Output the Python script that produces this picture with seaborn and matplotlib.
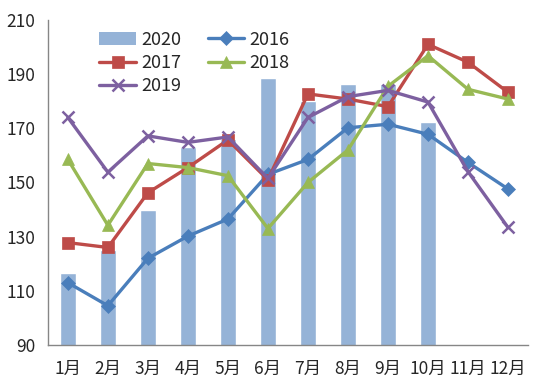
import numpy as np
import pandas as pd
import matplotlib
matplotlib.use("Agg")
import matplotlib.pyplot as plt
from matplotlib.patches import Patch
from matplotlib.lines import Line2D
import seaborn as sns

# ------------------------------------------------------------------
# Data
# ------------------------------------------------------------------
months = ["1月", "2月", "3月", "4月", "5月", "6月",
          "7月", "8月", "9月", "10月", "11月", "12月"]

y2020 = [116.5, 125, 140, 163, 166, 188.5, 180, 186.5, 186.5, 172.5, np.nan, np.nan]
y2016 = [113, 104.5, 122, 130.2, 136.5, 153, 158.5, 170.2, 171.5, 167.8, 157.4, 147.6]
y2017 = [127.8, 126, 146.2, 155.5, 165.7, 151, 182.7, 180.8, 178, 201, 194.4, 183.3]
y2018 = [158.5, 134.2, 157, 155.5, 152.5, 133, 150, 162, 185.5, 196.8, 184.4, 180.8]
y2019 = [174, 153.8, 167.2, 164.8, 166.8, 151.5, 174, 181.7, 184, 179.7, 154, 133.4]

BAR_COLOR = "#95B3D7"
line_specs = [
    ("2016", y2016, "#4A7EBB", "D", 7),
    ("2017", y2017, "#BE4B48", "s", 8),
    ("2018", y2018, "#98B954", "^", 8.5),
    ("2019", y2019, "#7D60A0", "x", 9),
]

# ------------------------------------------------------------------
# Style
# ------------------------------------------------------------------
sns.set_style("white")
plt.rcParams["font.family"] = ["Noto Sans CJK SC", "DejaVu Sans"]
FONT_SIZE = 12.5

fig = plt.figure(figsize=(5.5, 3.84), dpi=100)
ax = fig.add_axes([0.087, 0.1016, 0.873, 0.8464])

bar_df = pd.DataFrame({"month": months, "value": y2020})
sns.barplot(data=bar_df, x="month", y="value", color=BAR_COLOR,
            saturation=1, width=0.4, ax=ax, zorder=1)

x = np.arange(len(months))
for name, vals, color, marker, ms in line_specs:
    sns.lineplot(x=x, y=vals, color=color, linewidth=2.4, marker=marker,
                 markersize=ms, markeredgecolor=color,
                 markeredgewidth=1.8 if marker == "x" else 0.5,
                 ax=ax, zorder=3, legend=False)

# ------------------------------------------------------------------
# Axes
# ------------------------------------------------------------------
ax.set_ylim(90, 210)
ax.set_yticks(range(90, 211, 20))
ax.set_xlim(-0.5, 11.5)
ax.set_xticks(x)
ax.set_xticklabels(months)
ax.set_xticks(np.arange(-0.5, 12, 1), minor=True)
ax.tick_params(axis="x", which="major", length=0, labelsize=FONT_SIZE, pad=11)
ax.tick_params(axis="x", which="minor", length=5, color="#868686", direction="out")
ax.tick_params(axis="y", length=5, color="#868686", direction="out",
               labelsize=FONT_SIZE, pad=4)
ax.set_xlabel("")
ax.set_ylabel("")
for side in ["top", "right"]:
    ax.spines[side].set_visible(False)
for side in ["left", "bottom"]:
    ax.spines[side].set_color("#868686")
    ax.spines[side].set_linewidth(1)

# legend: row order 2020 2016 / 2017 2018 / 2019
handles = {
    "2020": Patch(facecolor=BAR_COLOR, edgecolor="none"),
}
for name, vals, color, marker, ms in line_specs:
    handles[name] = Line2D([], [], color=color, linewidth=2.4, marker=marker,
                           markersize=ms, markeredgecolor=color,
                           markeredgewidth=1.8 if marker == "x" else 0.5)
order = ["2020", "2017", "2019", "2016", "2018"]
ax.legend([handles[k] for k in order], order, ncol=2, frameon=False,
          fontsize=FONT_SIZE + 0.5, loc="upper left",
          bbox_to_anchor=(0.085, 1.0), handlelength=2.0, handleheight=0.7,
          handletextpad=0.3, columnspacing=1.5, labelspacing=0.28,
          borderaxespad=0.2)

fig.savefig("out.png", dpi=100)
